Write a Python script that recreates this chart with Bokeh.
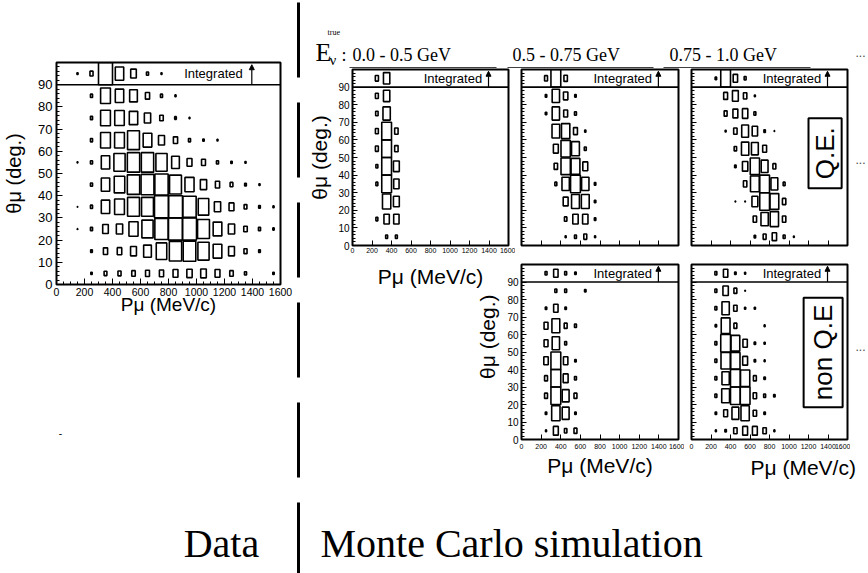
from math import pi
from bokeh.plotting import figure
from bokeh.layouts import row, column
from bokeh.models import (Range1d, FixedTicker, Span, Label, Arrow, NormalHead,
                          BoxAnnotation, ColumnDataSource, LinearAxis)
from bokeh.core.properties import value
from bokeh.embed import file_html
from bokeh.resources import INLINE

# ------------------------------------------------------------------ data
P_CENTERS = [150, 250, 350, 450, 550, 650, 750, 850, 950, 1050, 1150, 1250, 1350, 1450, 1550]
MC_P_CENTERS = [250, 350, 450, 550, 650, 750, 850, 950, 1050]
THETA_CENTERS = [5, 15, 25, 35, 45, 55, 65, 75, 85, 95]   # 95 = "Integrated" row (theta > 90)
P_BIN = 100
THETA_BIN = 10

X_TICKS = [0, 200, 400, 600, 800, 1000, 1200, 1400, 1600]
Y_TICKS = [0, 10, 20, 30, 40, 50, 60, 70, 80, 90]
E_RANGES = ["0.0 - 0.5 GeV", "0.5 - 0.75 GeV", "0.75 - 1.0 GeV"]

# relative box size per cell (rows: theta 5 ... 85, Integrated)
DATA_CELLS = [
    [0.00, 0.10, 0.20, 0.22, 0.25, 0.28, 0.30, 0.35, 0.38, 0.40, 0.35, 0.25, 0.15, 0.00, 0.10],
    [0.00, 0.12, 0.30, 0.32, 0.42, 0.55, 0.75, 0.88, 0.90, 0.80, 0.62, 0.42, 0.22, 0.12, 0.00],
    [0.03, 0.15, 0.40, 0.45, 0.65, 0.80, 0.95, 1.00, 1.00, 0.85, 0.62, 0.45, 0.25, 0.15, 0.10],
    [0.03, 0.15, 0.60, 0.70, 0.85, 0.85, 1.00, 1.00, 0.95, 0.75, 0.45, 0.35, 0.20, 0.12, 0.08],
    [0.00, 0.15, 0.60, 0.75, 0.88, 0.92, 0.95, 0.85, 0.65, 0.45, 0.30, 0.20, 0.12, 0.08, 0.00],
    [0.05, 0.15, 0.60, 0.80, 0.88, 0.88, 0.80, 0.55, 0.35, 0.28, 0.15, 0.10, 0.08, 0.00, 0.00],
    [0.00, 0.15, 0.70, 0.70, 0.85, 0.62, 0.43, 0.30, 0.15, 0.10, 0.07, 0.00, 0.00, 0.00, 0.00],
    [0.00, 0.15, 0.70, 0.68, 0.60, 0.45, 0.25, 0.12, 0.06, 0.00, 0.00, 0.00, 0.00, 0.00, 0.00],
    [0.00, 0.15, 0.70, 0.60, 0.55, 0.30, 0.15, 0.08, 0.00, 0.00, 0.00, 0.00, 0.00, 0.00, 0.00],
    [0.08, 0.22, 1.00, 0.60, 0.40, 0.15, 0.07, 0.00, 0.00, 0.00, 0.00, 0.00, 0.00, 0.00, 0.00],
]

MC_QE_E1 = [   # 0.0 - 0.5 GeV, Q.E.
    [0.00, 0.20, 0.20, 0, 0, 0, 0, 0, 0],
    [0.20, 0.55, 0.55, 0, 0, 0, 0, 0, 0],
    [0.00, 0.85, 0.60, 0, 0, 0, 0, 0, 0],
    [0.20, 1.00, 0.55, 0, 0, 0, 0, 0, 0],
    [0.20, 1.00, 0.60, 0, 0, 0, 0, 0, 0],
    [0.30, 1.00, 0.35, 0, 0, 0, 0, 0, 0],
    [0.30, 1.00, 0.35, 0, 0, 0, 0, 0, 0],
    [0.25, 0.75, 0.00, 0, 0, 0, 0, 0, 0],
    [0.30, 0.65, 0.00, 0, 0, 0, 0, 0, 0],
    [0.32, 0.65, 0.00, 0, 0, 0, 0, 0, 0],
]
MC_QE_E2 = [   # 0.5 - 0.75 GeV, Q.E.
    [0.00, 0.00, 0.10, 0.20, 0.30, 0.10, 0, 0, 0],
    [0.00, 0.00, 0.25, 0.55, 0.55, 0.15, 0, 0, 0],
    [0.00, 0.00, 0.50, 0.80, 0.80, 0.15, 0, 0, 0],
    [0.00, 0.20, 0.75, 1.00, 0.75, 0.15, 0, 0, 0],
    [0.00, 0.35, 0.95, 0.90, 0.50, 0.00, 0, 0, 0],
    [0.00, 0.50, 0.95, 0.80, 0.20, 0.00, 0, 0, 0],
    [0.00, 0.78, 0.85, 0.40, 0.12, 0.00, 0, 0, 0],
    [0.15, 0.75, 0.40, 0.20, 0.00, 0.00, 0, 0, 0],
    [0.15, 0.75, 0.45, 0.15, 0.00, 0.00, 0, 0, 0],
    [0.30, 1.00, 0.35, 0.00, 0.00, 0.00, 0, 0, 0],
]
MC_QE_E3 = [   # 0.75 - 1.0 GeV, Q.E.
    [0.00, 0.00, 0.00, 0.00, 0.15, 0.30, 0.45, 0.20, 0.08],
    [0.00, 0.00, 0.00, 0.00, 0.35, 0.75, 0.85, 0.35, 0.00],
    [0.00, 0.00, 0.05, 0.05, 0.60, 1.00, 0.90, 0.35, 0.00],
    [0.00, 0.00, 0.00, 0.35, 0.90, 1.00, 0.70, 0.20, 0.00],
    [0.00, 0.00, 0.15, 0.55, 0.95, 0.70, 0.30, 0.00, 0.00],
    [0.00, 0.00, 0.25, 0.75, 0.70, 0.40, 0.00, 0.00, 0.00],
    [0.00, 0.10, 0.35, 0.70, 0.55, 0.15, 0.05, 0.00, 0.00],
    [0.00, 0.30, 0.50, 0.55, 0.20, 0.00, 0.00, 0.00, 0.00],
    [0.00, 0.40, 0.60, 0.35, 0.10, 0.00, 0.00, 0.00, 0.00],
    [0.15, 1.00, 0.45, 0.20, 0.00, 0.00, 0.00, 0.00, 0.00],
]
MC_NQE_E2 = [  # 0.5 - 0.75 GeV, non Q.E.
    [0.10, 0.50, 0.25, 0.30, 0.00, 0, 0, 0, 0],
    [0.15, 0.85, 0.70, 0.15, 0.00, 0, 0, 0, 0],
    [0.30, 1.00, 0.70, 0.30, 0.00, 0, 0, 0, 0],
    [0.30, 1.00, 0.50, 0.20, 0.00, 0, 0, 0, 0],
    [0.45, 1.00, 0.45, 0.15, 0.00, 0, 0, 0, 0],
    [0.40, 0.75, 0.20, 0.00, 0.00, 0, 0, 0, 0],
    [0.40, 0.80, 0.30, 0.20, 0.00, 0, 0, 0, 0],
    [0.15, 0.45, 0.15, 0.00, 0.00, 0, 0, 0, 0],
    [0.00, 0.20, 0.20, 0.00, 0.15, 0, 0, 0, 0],
    [0.20, 0.45, 0.20, 0.15, 0.00, 0, 0, 0, 0],
]
MC_NQE_E3 = [  # 0.75 - 1.0 GeV, non Q.E.
    [0.10, 0.15, 0.35, 0.50, 0.50, 0.35, 0.10, 0, 0],
    [0.15, 0.40, 0.70, 0.85, 0.35, 0.15, 0.00, 0, 0],
    [0.20, 0.80, 1.00, 1.00, 0.35, 0.20, 0.15, 0, 0],
    [0.20, 0.75, 1.00, 0.95, 0.30, 0.15, 0.00, 0, 0],
    [0.20, 0.95, 0.95, 0.50, 0.15, 0.10, 0.00, 0, 0],
    [0.20, 1.00, 0.90, 0.45, 0.15, 0.12, 0.00, 0, 0],
    [0.15, 0.90, 0.30, 0.00, 0.00, 0.10, 0.00, 0, 0],
    [0.20, 0.75, 0.35, 0.12, 0.12, 0.00, 0.00, 0, 0],
    [0.20, 0.55, 0.30, 0.05, 0.00, 0.00, 0.00, 0, 0],
    [0.20, 0.45, 0.15, 0.10, 0.00, 0.00, 0.00, 0, 0],
]

# ------------------------------------------------------------------ style
SANS = "Liberation Sans"
SERIF = "Liberation Serif"
Y_MINOR = list(range(0, 101, 2))
X_MINOR_DATA = list(range(0, 1601, 50))
INT_TEXT_X = 1330
ARROW_X = 1395


def cells_source(cells, pcenters):
    xs, ys, ws, hs = [], [], [], []
    for theta, vals in zip(THETA_CENTERS, cells):
        for pc, v in zip(pcenters, vals):
            if v > 0:
                xs.append(pc)
                ys.append(theta)
                ws.append(v * P_BIN)
                hs.append(v * THETA_BIN)
    return ColumnDataSource(dict(x=xs, y=ys, w=ws, h=hs))


def style_axis(a, tmaj, tmin):
    a.axis_line_color = None
    a.major_tick_in = tmaj
    a.major_tick_out = 0
    a.minor_tick_in = tmin
    a.minor_tick_out = 0
    a.major_tick_line_color = "black"
    a.minor_tick_line_color = "black"
    a.major_label_text_font = SANS
    a.major_label_text_color = "black"
    a.axis_label_text_font = SANS
    a.axis_label_text_font_style = "normal"
    a.axis_label_text_color = "black"


def panel(cells, pcenters, w, h, bl, br, bt, bb, xfont=None, yfont=None,
          xlab=None, ylab=None, xlab_font="21px", ylab_font="21px",
          xlab_standoff=2, ylab_standoff=4, x_minor=None, tmaj=5, tmin=3,
          xstand=3, ystand=3):
    p = figure(width=w, height=h, x_range=Range1d(0, 1600), y_range=Range1d(0, 100),
               output_backend="svg", toolbar_location=None,
               min_border_left=bl, min_border_right=br,
               min_border_top=bt, min_border_bottom=bb)
    p.grid.visible = False
    p.outline_line_color = "black"
    p.outline_line_width = 2
    p.outline_line_alpha = 1
    p.background_fill_color = "white"
    p.border_fill_color = "white"
    p.rect(x="x", y="y", width="w", height="h", source=cells_source(cells, pcenters),
           fill_color=None, line_color="black", line_width=1.6)
    p.add_layout(Span(location=90, dimension="width", line_color="black", line_width=1.6))
    p.add_layout(Label(x=INT_TEXT_X, y=95, text="Integrated", text_align="right",
                       text_baseline="middle", text_font=SANS, text_font_size="13px",
                       text_color="black"))
    p.add_layout(Arrow(end=NormalHead(size=5, fill_color="black", line_color="black", line_width=1),
                       x_start=ARROW_X, y_start=90, x_end=ARROW_X, y_end=99,
                       line_color="black", line_width=1.2))
    xa, ya = p.xaxis[0], p.yaxis[0]
    style_axis(xa, tmaj, tmin)
    style_axis(ya, tmaj, tmin)
    if xfont:
        xa.ticker = FixedTicker(ticks=X_TICKS, minor_ticks=x_minor or [])
        xa.major_label_text_font_size = xfont
        xa.major_label_standoff = xstand
    else:
        # tick marks only: the 200 MeV ticks drawn as the (unlabelled) tick set
        xa.ticker = FixedTicker(ticks=[], minor_ticks=X_TICKS)
        xa.minor_tick_in = tmaj
        xa.major_label_standoff = 0
    if yfont:
        ya.ticker = FixedTicker(ticks=Y_TICKS, minor_ticks=Y_MINOR)
        ya.major_label_text_font_size = yfont
        ya.major_label_standoff = ystand
    else:
        ya.ticker = FixedTicker(ticks=[], minor_ticks=Y_MINOR)
        ya.major_label_standoff = 0
        ya2 = LinearAxis(ticker=FixedTicker(ticks=[], minor_ticks=Y_TICKS))
        style_axis(ya2, 0, tmaj)
        ya2.major_label_standoff = 0
        p.add_layout(ya2, "left")
    if xlab:
        xa.axis_label = xlab
        xa.axis_label_text_font_size = xlab_font
        xa.axis_label_standoff = xlab_standoff
    if ylab:
        ya.axis_label = ylab
        ya.axis_label_text_font_size = ylab_font
        ya.axis_label_standoff = ylab_standoff
    return p


def blank(w, h, x0, x1, y0, y1):
    p = figure(width=w, height=h, x_range=Range1d(x0, x1), y_range=Range1d(y1, y0),
               output_backend="svg", toolbar_location=None,
               x_axis_type=None, y_axis_type=None, min_border=0)
    p.outline_line_color = None
    p.background_fill_color = "white"
    p.border_fill_color = "white"
    return p


def txt(p, x, y, s, size, font=SANS, align="left", baseline="middle", angle=0, color="black"):
    p.text(x=[x], y=[y], text=[s], text_font=value(font), text_font_size=value(f"{size}px"),
           text_align=align, text_baseline=baseline, angle=angle, text_color=color)


def txt_base(p, x, base, s, size, font=SERIF, align="left", color="black"):
    # place text by its alphabetic baseline (centre of the em box sits ~0.34 em above it)
    txt(p, x, base - 0.34 * size, s, size, font=font, align=align, color=color)


def qe_box(p, left, right, bottom, top, label):
    p.add_layout(BoxAnnotation(left=left, right=right, bottom=bottom, top=top,
                               fill_color=None, fill_alpha=0, line_color="black",
                               line_alpha=1, line_width=2))
    p.add_layout(Label(x=(left + right) / 2, y=(bottom + top) / 2, text=label, angle=pi / 2,
                       text_align="center", text_baseline="middle", text_font=SANS,
                       text_font_size="26px", text_color="black"))


# ------------------------------------------------------------------ data panel
data_fig = panel(DATA_CELLS, P_CENTERS, 296, 320, 56, 16, 62, 36,
                 xfont="10.5px", yfont="13px", xlab="Pμ (MeV/c)", ylab="θμ (deg.)",
                 xlab_font="19px", ylab_font="20px", xlab_standoff=-5, ylab_standoff=10,
                 x_minor=X_MINOR_DATA, tmaj=6, tmin=3, xstand=3, ystand=4)

lb_fig = blank(296, 253, 0, 296, 320, 573)
txt_base(lb_fig, 168, 557, "Data", 40)
txt(lb_fig, 3, 432, "-", 10)

vline = blank(5, 573, 296, 301, 0, 573)
vline.segment(x0=[298] * 6, x1=[298] * 6,
              y0=[2, 102, 202, 302, 402, 502], y1=[77, 177, 277, 377, 477, 573],
              line_color="black", line_width=3)

# ------------------------------------------------------------------ header
header = blank(567, 68, 301, 868, 0, 68)
txt_base(header, 315, 61, "E", 26)
txt_base(header, 329, 65, "ν", 15)
txt_base(header, 327, 35, "true", 8)
txt_base(header, 341, 61, ":", 18)
for xpos, s in zip([352, 512, 669], E_RANGES):
    txt_base(header, xpos, 61, s, 18)
header.segment(x0=[349, 507, 663], x1=[496, 653, 810], y0=[67.3] * 3, y1=[67.3] * 3,
               line_color="black", line_width=1.2)
txt(header, 855, 52, "...", 12, color="#444444")

# ------------------------------------------------------------------ top row (Q.E.)
figA = panel(MC_QE_E1, MC_P_CENTERS, 214, 194, 51, 7, 1, 17,
             xfont="7px", yfont="10px", ylab="θμ (deg.)", ylab_font="21px",
             ylab_standoff=4, xstand=2, ystand=3)
figB = panel(MC_QE_E2, MC_P_CENTERS, 169, 194, 6, 6, 1, 17)
figC = panel(MC_QE_E3, MC_P_CENTERS, 166, 194, 7, 3, 1, 17)
qe_box(figC, 1200, 1540, 32.5, 72.3, "Q.E.")
pad_top = blank(18, 194, 850, 868, 68, 262)
txt(pad_top, 855, 167, "...", 12, color="#444444")

# ------------------------------------------------------------------ bottom row (non Q.E.)
blank_bl = blank(199, 223, 301, 500, 262, 485)
txt(blank_bl, 430, 277, "Pμ (MeV/c)", 21, align="center")
txt(blank_bl, 487, 354, "θμ (deg.)", 21, align="center", angle=pi / 2)

figD = panel(MC_NQE_E2, MC_P_CENTERS, 184, 223, 21, 6, 2, 46,
             xfont="7px", yfont="10px", xlab="Pμ (MeV/c)", xlab_font="21px",
             xlab_standoff=2, xstand=4, ystand=3)
figE = panel(MC_NQE_E3, MC_P_CENTERS, 166, 191, 7, 3, 2, 14, xfont="7px", xstand=4)
qe_box(figE, 1150, 1550, 18.5, 81, "non Q.E")
pad_bot = blank(18, 191, 850, 868, 262, 453)
txt(pad_bot, 855, 351, "...", 12, color="#444444")
label_e = blank(184, 32, 684, 868, 453, 485)
txt(label_e, 750, 467, "Pμ (MeV/c)", 21)

footer = blank(567, 88, 301, 868, 485, 573)
txt_base(footer, 320, 557, "Monte Carlo simulation", 40)

# ------------------------------------------------------------------ layout
right_col = column(
    header,
    row(figA, figB, figC, pad_top),
    row(blank_bl, figD, column(row(figE, pad_bot), label_e)),
    footer,
)
layout = row(column(data_fig, lb_fig), vline, right_col)

open("out.html", "w").write(file_html(layout, INLINE, "Muon kinematics"))
